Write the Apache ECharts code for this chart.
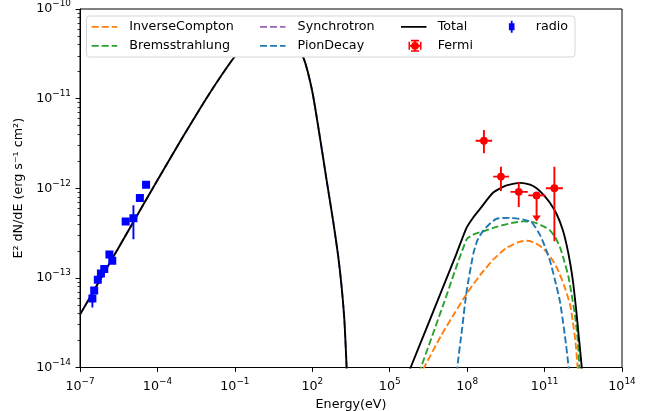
<!DOCTYPE html>
<html>
<head>
<meta charset="utf-8">
<script src="https://cdn.jsdelivr.net/npm/echarts@6/dist/echarts.min.js"></script>
<style>html,body{margin:0;padding:0;background:#fff}#chart{width:660px;height:411px}</style>
</head>
<body>
<div id="chart"></div>
<script>
// ---------- DATA (log10 of Energy in eV, log10 of E^2 dN/dE in erg s^-1 cm^-2) ----------
const xTickExps = [-7, -4, -1, 2, 5, 8, 11, 14];
const yTickExps = [-14, -13, -12, -11, -10];
const yMinorMantissas = [2, 3, 4, 5, 6, 7, 8, 9];

// Total model: low-energy (synchrotron) part and high-energy part (gap = below plotted range)
const totalLogE = [-7, -6, -5, -4, -3, -2, -1, -0.5, 0, 0.5, 1, 1.3, 1.65, 2, 2.3, 2.55, 2.81, 3, 3.14, 3.25, 3.33, 3.45,
  4.5,
  5.6, 5.81, 6.4, 7.0, 7.6, 7.98, 8.25, 8.5, 9, 9.5, 10.05, 10.44, 10.69, 10.95, 11.2, 11.47, 11.7, 11.86, 12, 12.11, 12.24, 12.31, 12.44, 12.52];
const totalLogF = [-13.41, -12.91, -12.41, -11.91, -11.42, -10.95, -10.53, -10.40, -10.33, -10.31, -10.36, -10.44, -10.54, -10.92, -11.44, -11.9, -12.37, -12.75, -13.11, -13.5, -14.0, -14.8,
  null,
  -14.15, -14.0, -13.58, -13.15, -12.72, -12.44, -12.32, -12.23, -12.05, -11.97, -11.94, -11.96, -12.0, -12.07, -12.16, -12.29, -12.46, -12.64, -12.85, -13.06, -13.40, -13.61, -14.0, -14.4];

const synchLogE = [-7, -6, -5, -4, -3, -2, -1, -0.5, 0, 0.5, 1, 1.3, 1.65, 2, 2.3, 2.55, 2.81, 3, 3.14, 3.25, 3.33, 3.45];
const synchLogF = [-13.41, -12.91, -12.41, -11.91, -11.42, -10.95, -10.53, -10.40, -10.33, -10.31, -10.36, -10.44, -10.54, -10.92, -11.44, -11.9, -12.37, -12.75, -13.11, -13.5, -14.0, -14.8];

const icLogE = [6.1, 6.33, 7.0, 7.5, 8.0, 8.5, 9.0, 9.5, 10.0, 10.3, 10.55, 10.8, 11.1, 11.3, 11.5, 11.75, 11.99, 12.1, 12.2, 12.28, 12.33];
const icLogF = [-14.12, -14.0, -13.64, -13.4, -13.17, -12.97, -12.8, -12.67, -12.6, -12.585, -12.6, -12.64, -12.72, -12.8, -12.9, -13.08, -13.3, -13.5, -13.72, -14.0, -14.3];

const bremsLogE = [6.0, 6.21, 7.1, 7.98, 8.3, 8.63, 9.14, 9.7, 10.18, 10.5, 10.69, 11.0, 11.21, 11.42, 11.6, 11.77, 11.92, 12.05, 12.18, 12.28, 12.35, 12.42];
const bremsLogF = [-14.17, -14.0, -13.28, -12.57, -12.51, -12.48, -12.43, -12.39, -12.37, -12.375, -12.39, -12.43, -12.47, -12.55, -12.66, -12.82, -12.98, -13.19, -13.42, -13.68, -14.0, -14.4];

const pionLogE = [7.55, 7.62, 7.79, 7.98, 8.24, 8.4, 8.63, 8.9, 9.14, 9.66, 10.18, 10.5, 10.82, 11.0, 11.21, 11.4, 11.6, 11.79, 11.93, 11.98];
const pionLogF = [-14.4, -14.0, -13.6, -13.15, -12.73, -12.58, -12.47, -12.39, -12.34, -12.33, -12.35, -12.38, -12.52, -12.64, -12.81, -13.02, -13.27, -13.65, -14.0, -14.3];

// Fermi points (upper limit flagged)
const fermiLogE   = [8.65, 9.31, 10.0, 10.69, 11.38];
const fermiLogF   = [-11.47, -11.87, -12.04, -12.08, -12.0];
const fermiLogELo = [8.33, 9.01, 9.68, 10.37, 11.05];
const fermiLogEHi = [8.97, 9.62, 10.35, 11.03, 11.71];
const fermiLogFLo = [-11.61, -12.03, -12.21, -12.37, -12.59];
const fermiLogFHi = [-11.35, -11.76, -11.93, -12.08, -11.76];
const fermiUpperLimit = [0, 0, 0, 1, 0];

// Radio points
const radioLogE   = [-6.52, -6.45, -6.31, -6.19, -6.06, -5.86, -5.75, -5.23, -4.93, -4.68, -4.44];
const radioLogF   = [-13.23, -13.14, -13.02, -12.95, -12.90, -12.74, -12.81, -12.37, -12.335, -12.11, -11.96];
const radioLogFLo = [-13.33, -13.17, -13.05, -12.98, -12.93, -12.77, -12.84, -12.40, -12.57, -12.14, -11.99];
const radioLogFHi = [-13.16, -13.11, -12.99, -12.92, -12.87, -12.71, -12.78, -12.34, -12.19, -12.08, -11.93];

const seriesNames = ['InverseCompton', 'Bremsstrahlung', 'Synchrotron', 'PionDecay', 'Total', 'Fermi', 'radio'];

// ---------- BUILD ----------
const FONT = 'DejaVu Sans';
const FS = 12.7;
const LW = 1.9;
const DASH = [7, 3];

function pairs(xs, ys) { return xs.map((x, i) => [x, ys[i] === null ? '-' : ys[i]]); }
function supText(v) { return v < 0 ? '\u2212' + Math.abs(v) : String(v); }
const rich = {
  b: { fontSize: FS, fontFamily: FONT, color: '#000', verticalAlign: 'middle' },
  s: { fontSize: 8.9, fontFamily: FONT, color: '#000', verticalAlign: 'top', padding: [0, 0, 10, 0] }
};
function powLabel(v) { return '{b|10}{s|' + supText(Math.round(v)) + '}'; }

const yMinor = [];
for (let e = -14; e < -10; e++) yMinorMantissas.forEach(m => yMinor.push(e + Math.log10(m)));

function lineSeries(name, xs, ys, color, dashed, z) {
  return {
    name, type: 'line', data: pairs(xs, ys), color,
    showSymbol: false, symbol: 'none', smooth: 0.2, connectNulls: false, clip: true,
    lineStyle: { color, width: LW, type: dashed ? DASH : 'solid' },
    z: z, animation: false, silent: true
  };
}

const fermiData = fermiLogE.map((x, i) => [x, fermiLogF[i], fermiLogELo[i], fermiLogEHi[i], fermiLogFLo[i], fermiLogFHi[i], fermiUpperLimit[i]]);
const radioData = radioLogE.map((x, i) => [x, radioLogF[i], radioLogFLo[i], radioLogFHi[i]]);

function renderFermi(params, api) {
  const color = '#ff0000';
  const c = api.coord([api.value(0), api.value(1)]);
  const xl = api.coord([api.value(2), api.value(1)])[0];
  const xh = api.coord([api.value(3), api.value(1)])[0];
  const yl = api.coord([api.value(0), api.value(4)])[1];
  const yh = api.coord([api.value(0), api.value(5)])[1];
  const ul = api.value(6);
  const ch = [
    { type: 'line', shape: { x1: xl, y1: c[1], x2: xh, y2: c[1] }, style: { stroke: color, lineWidth: LW } },
    { type: 'line', shape: { x1: c[0], y1: yh, x2: c[0], y2: ul ? yl - 5 : yl }, style: { stroke: color, lineWidth: LW } }
  ];
  if (ul) ch.push({ type: 'polygon', shape: { points: [[c[0] - 4.2, yl - 6], [c[0] + 4.2, yl - 6], [c[0], yl]] }, style: { fill: color } });
  ch.push({ type: 'circle', shape: { cx: c[0], cy: c[1], r: 3.9 }, style: { fill: color } });
  return { type: 'group', children: ch };
}
function renderRadio(params, api) {
  const color = '#0000ff';
  const c = api.coord([api.value(0), api.value(1)]);
  const yl = api.coord([api.value(0), api.value(2)])[1];
  const yh = api.coord([api.value(0), api.value(3)])[1];
  const s = 8;
  return { type: 'group', children: [
    { type: 'line', shape: { x1: c[0], y1: yh, x2: c[0], y2: yl }, style: { stroke: color, lineWidth: LW } },
    { type: 'rect', shape: { x: c[0] - s / 2, y: c[1] - s / 2, width: s, height: s }, style: { fill: color } }
  ] };
}

// legend icons (box width = itemWidth, height 12)
function spacer(w) { return 'M0,0h0.01v0.01h-0.01z M' + w + ',12h-0.01v-0.01h0.01z '; }
const dashIcon = 'path://' + spacer(32.6) + 'M0,5.1h7v1.8h-7z M10,5.1h7v1.8h-7z M20,5.1h5.5v1.8h-5.5z';
const totalIcon = 'path://' + spacer(31.7) + 'M0,5.1h25.5v1.8h-25.5z';
const fermiIcon = 'path://' + spacer(31.7) + 'M7.5,5.1h13v1.8h-13z M7.5,2h1.6v8h-1.6z M18.9,2h1.6v8h-1.6z M13.1,0h1.8v12h-1.8z M10,0h8v1.6h-8z M10,10.4h8v1.6h-8z M10.1,6a3.9,3.9 0 1,1 7.8,0a3.9,3.9 0 1,1 -7.8,0z';
const radioIcon = 'path://' + spacer(30.7) + 'M8.9,2.5h5.6v7h-5.6z M10.8,0h1.8v12h-1.8z';

const legendLayout = [
  { name: 'InverseCompton', left: 91.7, top: 20.3, w: 32.6, icon: dashIcon },
  { name: 'Bremsstrahlung', left: 91.7, top: 39.3, w: 32.6, icon: dashIcon },
  { name: 'Synchrotron', left: 260, top: 20.3, w: 32.6, icon: dashIcon },
  { name: 'PionDecay', left: 260, top: 39.3, w: 32.6, icon: dashIcon },
  { name: 'Total', left: 401, top: 20.3, w: 31.7, icon: totalIcon },
  { name: 'Fermi', left: 401, top: 39.3, w: 31.7, icon: fermiIcon },
  { name: 'radio', left: 500, top: 20.3, w: 30.7, icon: radioIcon }
];

const legends = legendLayout.map(l => ({
  data: [{ name: l.name, icon: l.icon }],
  left: l.left, top: l.top, orient: 'vertical', padding: 0, itemGap: 0,
  itemWidth: l.w, itemHeight: 12, symbolKeepAspect: true, selectedMode: false,
  itemStyle: { borderWidth: 0 },
  textStyle: { fontFamily: FONT, fontSize: FS, color: '#000' },
  z: 10
}));

const option = {
  animation: false,
  backgroundColor: '#fff',
  textStyle: { fontFamily: FONT },
  grid: { left: 80, right: 38, top: 9, bottom: 43.5, containLabel: false, outerBoundsMode: 'none',
          show: true, borderColor: '#000', borderWidth: 1, backgroundColor: 'transparent' },
  graphic: [{
    type: 'rect', z: 9, silent: true,
    shape: { x: 86.5, y: 16, width: 488.5, height: 41, r: 3 },
    style: { fill: '#ffffff', stroke: '#d6d6d6', lineWidth: 1 }
  }],
  legend: legends,
  xAxis: {
    type: 'value', min: -7, max: 14, interval: 3,
    name: 'Energy(eV)', nameLocation: 'middle', nameGap: 27,
    nameTextStyle: { fontFamily: FONT, fontSize: FS, color: '#000' },
    axisLine: { show: true, onZero: false, lineStyle: { color: '#000', width: 1 } },
    axisTick: { show: true, customValues: xTickExps, length: 4.4, lineStyle: { color: '#000', width: 1 } },
    axisLabel: { customValues: xTickExps, formatter: powLabel, rich: rich, margin: 9.5 },
    splitLine: { show: false }
  },
  yAxis: [{
    type: 'value', min: -14, max: -10, interval: 1,
    name: 'E\u00b2 dN/dE (erg s\u207b\u00b9 cm\u00b2)', nameLocation: 'middle', nameGap: 51,
    nameTextStyle: { fontFamily: FONT, fontSize: FS, color: '#000' },
    axisLine: { show: true, onZero: false, lineStyle: { color: '#000', width: 1 } },
    axisTick: { show: true, customValues: yTickExps, length: 4.4, lineStyle: { color: '#000', width: 1 } },
    axisLabel: { customValues: yTickExps, formatter: powLabel, rich: rich, margin: 9 },
    splitLine: { show: false }
  }, {
    type: 'value', min: -14, max: -10, position: 'left',
    axisLine: { show: false, onZero: false },
    axisTick: { show: true, customValues: yMinor, length: 2.5, lineStyle: { color: '#000', width: 0.8 } },
    axisLabel: { show: false },
    splitLine: { show: false }
  }],
  series: [
    lineSeries('Synchrotron', synchLogE, synchLogF, '#9467bd', true, 2),
    lineSeries('InverseCompton', icLogE, icLogF, '#ff7f0e', true, 3),
    lineSeries('Bremsstrahlung', bremsLogE, bremsLogF, '#2ca02c', true, 3),
    lineSeries('PionDecay', pionLogE, pionLogF, '#1f77b4', true, 3),
    lineSeries('Total', totalLogE, totalLogF, '#000000', false, 4),
    { name: 'Fermi', type: 'custom', renderItem: renderFermi, data: fermiData, color: '#ff0000',
      itemStyle: { color: '#ff0000' }, encode: { x: 0, y: 1 }, clip: true, z: 5, silent: true },
    { name: 'radio', type: 'custom', renderItem: renderRadio, data: radioData, color: '#0000ff',
      itemStyle: { color: '#0000ff' }, encode: { x: 0, y: 1 }, clip: true, z: 5, silent: true }
  ]
};

const chart = echarts.init(document.getElementById('chart'), null, { renderer: 'canvas' });
chart.setOption(option);
</script>
</body>
</html>
